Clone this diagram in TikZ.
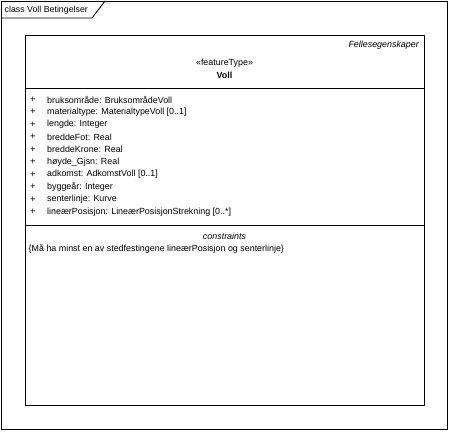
\documentclass[tikz,border=0pt]{standalone}
\usepackage{fontspec}
\setmainfont{Liberation Sans}
\begin{document}
\begin{tikzpicture}[x=1pt,y=-1pt,
  frame/.style={draw=black,line width=0.9pt},
  txt/.style={inner sep=0pt,font=\fontsize{8.9}{10}\selectfont,text=black},
  attr/.style={txt,anchor=west},
  plus/.style={txt,anchor=center}]
\useasboundingbox (0,0) rectangle (449,431);
% outer frame
\draw[frame] (1,1) rectangle (447,429);
\draw[frame] (1,18) -- (92,18) -- (105,1);
\node[txt,anchor=west,font=\fontsize{8.8}{10}\selectfont] (title) at (4.5,10) {class Voll Betingelser};
% class box
\draw[frame] (25,35) rectangle (424,405);
\draw[frame] (25,88) -- (424,88);
\draw[frame] (25,225) -- (424,225);
\node[txt,anchor=east,font=\fontsize{8.9}{10}\selectfont\itshape] (tag) at (419,45) {Fellesegenskaper};
\node[txt] (st) at (224.5,63) {«featureType»};
\node[txt,font=\fontsize{8.9}{10}\selectfont\bfseries] (name) at (224.5,75.5) {Voll};
\foreach \t [count=\i] in {bruksområde: BruksområdeVoll,
  materialtype: MaterialtypeVoll [0..1],
  lengde: Integer,
  breddeFot: Real,
  breddeKrone: Real,
  høyde\_Gjsn: Real,
  adkomst: AdkomstVoll [0..1],
  byggeår: Integer,
  senterlinje: Kurve,
  lineærPosisjon: LineærPosisjonStrekning [0..*]}{
  \node[plus,font=\fontsize{9.5}{10}\selectfont] (p\i) at (33,{99.5+12.5*(\i-1)}) {+};
  \node[attr] (a\i) at (47,{99.5+12.5*(\i-1)}) {\t};
}
\node[txt,font=\fontsize{8.9}{10}\selectfont\itshape] (ch) at (224.5,236) {constraints};
\node[attr] (c1) at (28.5,248.5) {\{Må ha minst en av stedfestingene lineærPosisjon og senterlinje\}};
\end{tikzpicture}
\end{document}
